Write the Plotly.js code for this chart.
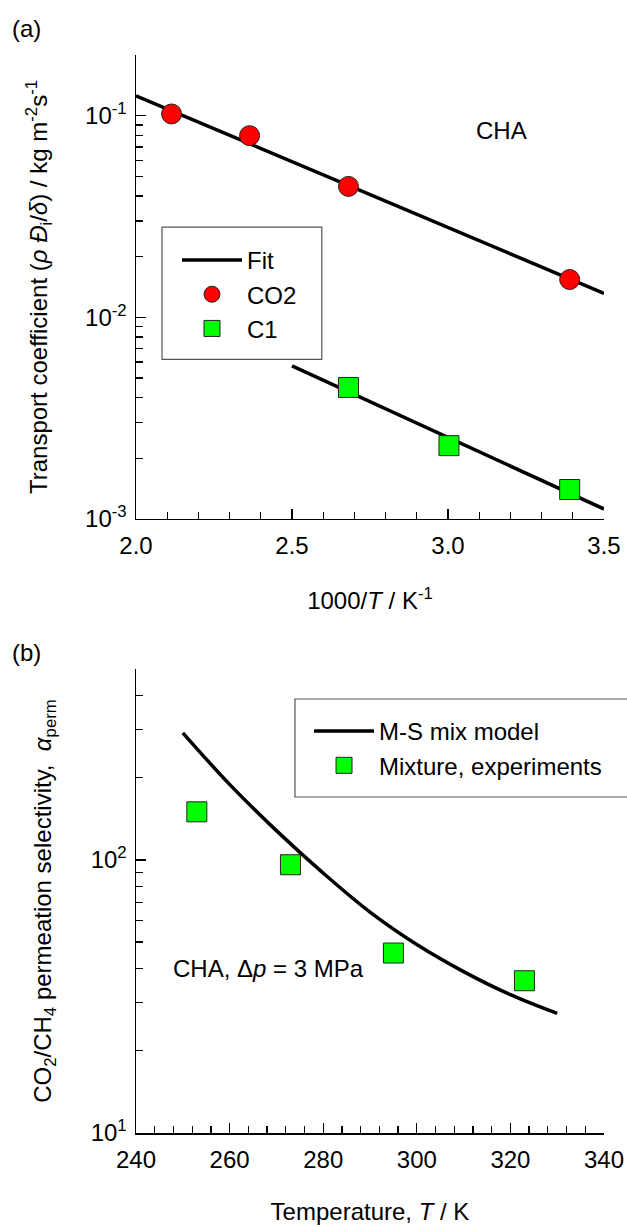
<!DOCTYPE html>
<html>
<head>
<meta charset="utf-8">
<script src="https://cdn.plot.ly/plotly-3.0.1.min.js"></script>
<style>html,body{margin:0;padding:0;background:#fff;}#chart{width:627px;height:1227px;}</style>
</head>
<body>
<div id="chart"></div>
<script>
// ---------- Panel (a) data ----------
const co2InvT = [2.114, 2.364, 2.681, 3.390];
const co2Coef = [0.102, 0.0796, 0.0446, 0.0154];
const c1InvT = [2.681, 3.003, 3.390];
const c1Coef = [0.00449, 0.00231, 0.00140];
const fitCO2InvT = [2.0, 3.5];
const fitCO2Coef = [0.1256, 0.01315];
const fitC1InvT = [2.5, 3.5];
const fitC1Coef = [0.00574, 0.00112];
const yTickValsA = [0.001, 0.01, 0.1];
const yTickTextA = ['10<sup>-3</sup>', '10<sup>-2</sup>', '10<sup>-1</sup>'];

// ---------- Panel (b) data ----------
const tempExp = [253, 273, 295, 323];
const selExp = [150, 96, 45.6, 36.1];
const tempModel = [250, 260, 270, 280, 290, 300, 310, 320, 330];
const selModel = [292, 189, 128, 89.5, 64.4, 49, 39, 32.1, 27.4];
const yTickValsB = [10, 100];
const yTickTextB = ['10<sup>1</sup>', '10<sup>2</sup>'];

function minorLog(decStart, decEnd, maxVal) {
  const out = [];
  for (let d = decStart; d < decEnd; d++) {
    for (let k = 2; k <= 9; k++) {
      const v = k * Math.pow(10, d);
      if (v <= maxVal * 1.0001) out.push(v);
    }
  }
  return out;
}

const FONT = 'Liberation Sans, Arial, Helvetica, sans-serif';
const axisCommon = {
  showline: true, linecolor: '#000', linewidth: 1.5,
  ticks: 'inside', ticklen: 10, tickwidth: 1.3, tickcolor: '#000',
  showgrid: false, zeroline: false, mirror: false, automargin: false,
  tickfont: {family: FONT, size: 24, color: '#000'}
};

const traces = [
  {x: fitCO2InvT, y: fitCO2Coef, xaxis: 'x', yaxis: 'y', mode: 'lines', name: 'Fit',
   line: {color: '#000', width: 3.5}, legend: 'legend'},
  {x: fitC1InvT, y: fitC1Coef, xaxis: 'x', yaxis: 'y', mode: 'lines', name: 'Fit C1',
   line: {color: '#000', width: 3.5}, showlegend: false, legend: 'legend'},
  {x: co2InvT, y: co2Coef, xaxis: 'x', yaxis: 'y', mode: 'markers', name: 'CO2',
   marker: {symbol: 'circle', size: 20, color: '#ff0000', line: {color: '#222', width: 1}}, legend: 'legend'},
  {x: c1InvT, y: c1Coef, xaxis: 'x', yaxis: 'y', mode: 'markers', name: 'C1',
   marker: {symbol: 'square', size: 20, color: '#00ff00', line: {color: '#222', width: 1}}, legend: 'legend'},
  {x: tempModel, y: selModel, xaxis: 'x2', yaxis: 'y2', mode: 'lines', name: 'M-S mix model',
   line: {color: '#000', width: 3.5, shape: 'spline'}, legend: 'legend2'},
  {x: tempExp, y: selExp, xaxis: 'x2', yaxis: 'y2', mode: 'markers', name: 'Mixture, experiments',
   marker: {symbol: 'square', size: 20, color: '#00ff00', line: {color: '#222', width: 1}}, legend: 'legend2'}
];

const layout = {
  width: 627, height: 1227,
  margin: {l: 136, r: 23, t: 55, b: 94, autoexpand: false},
  paper_bgcolor: '#fff', plot_bgcolor: '#fff',
  font: {family: FONT, size: 24, color: '#000'},
  showlegend: true,
  xaxis: Object.assign({}, axisCommon, {
    domain: [0, 1], anchor: 'y', range: [2, 3.5], tickmode: 'linear', tick0: 2, dtick: 0.5,
    tickformat: '.1f', ticklabelstandoff: 5,
    minor: {ticks: 'inside', ticklen: 7, tickwidth: 1.3, tickcolor: '#000', dtick: 0.1, tick0: 2, showgrid: false},
    title: {text: '1000/<i>T</i> / K<sup>-1</sup>', font: {family: FONT, size: 24}, standoff: 34}
  }),
  yaxis: Object.assign({}, axisCommon, {
    domain: [0.5696, 1], anchor: 'x', type: 'log', range: [-3, Math.log10(0.2)],
    tickmode: 'array', tickvals: yTickValsA, ticktext: yTickTextA, ticklabelstandoff: 3,
    minor: {ticks: 'inside', ticklen: 7, tickwidth: 1.3, tickcolor: '#000', tickmode: 'array',
            tickvals: minorLog(-3, 0, 0.2), showgrid: false},
    title: {text: 'Transport coefficient (<i>ρ Đ</i><sub>i</sub>/<i>δ</i>) / kg m<sup>-2</sup>s<sup>-1</sup>',
            font: {family: FONT, size: 24}, standoff: 30}
  }),
  xaxis2: Object.assign({}, axisCommon, {
    domain: [0, 1], anchor: 'y2', range: [240, 340], tickmode: 'linear', tick0: 240, dtick: 20,
    ticklabelstandoff: 5,
    minor: {ticks: 'inside', ticklen: 7, tickwidth: 1.3, tickcolor: '#000', dtick: 4, tick0: 240, showgrid: false},
    title: {text: 'Temperature, <i>T</i> / K', font: {family: FONT, size: 24}, standoff: 31}
  }),
  yaxis2: Object.assign({}, axisCommon, {
    domain: [0, 0.4304], anchor: 'x2', type: 'log', range: [1, Math.log10(500)],
    tickmode: 'array', tickvals: yTickValsB, ticktext: yTickTextB, ticklabelstandoff: 3,
    minor: {ticks: 'inside', ticklen: 7, tickwidth: 1.3, tickcolor: '#000', tickmode: 'array',
            tickvals: minorLog(1, 3, 500), showgrid: false},
    title: {text: 'CO<sub>2</sub>/CH<sub>4</sub> permeation selectivity,  <i>α</i><sub>perm</sub>',
            font: {family: FONT, size: 24}, standoff: 32}
  }),
  legend: {
    x: 0.0876, y: 0.8303, xanchor: 'left', yanchor: 'top',
    bgcolor: 'rgba(0,0,0,0)', borderwidth: 0, itemwidth: 60,
    font: {family: FONT, size: 24, color: '#000'}, traceorder: 'normal'
  },
  legend2: {
    x: 0.3697, y: 0.3933, xanchor: 'left', yanchor: 'top',
    bgcolor: 'rgba(0,0,0,0)', borderwidth: 0, itemwidth: 60,
    font: {family: FONT, size: 24, color: '#000'}, traceorder: 'normal'
  },
  shapes: [
    {type: 'rect', xref: 'paper', yref: 'paper', x0: 0.0556, x1: 0.397, y0: 0.7177, y1: 0.8404,
     line: {color: '#555', width: 1.2}, fillcolor: 'rgba(0,0,0,0)', layer: 'above'},
    {type: 'rect', xref: 'paper', yref: 'paper', x0: 0.3397, x1: 1.2, y0: 0.3117, y1: 0.4026,
     line: {color: '#555', width: 1.2}, fillcolor: 'rgba(0,0,0,0)', layer: 'above'}
  ],
  annotations: [
    {text: '(a)', xref: 'paper', yref: 'paper', x: -0.269, y: 1.025, xanchor: 'left', yanchor: 'middle',
     showarrow: false, font: {family: FONT, size: 24}},
    {text: '(b)', xref: 'paper', yref: 'paper', x: -0.269, y: 0.446, xanchor: 'left', yanchor: 'middle',
     showarrow: false, font: {family: FONT, size: 24}},
    {text: 'CHA', xref: 'paper', yref: 'paper', x: 0.782, y: 0.9295, xanchor: 'center', yanchor: 'middle',
     showarrow: false, font: {family: FONT, size: 24}},
    {text: 'CHA, Δ<i>p</i> = 3 MPa', xref: 'paper', yref: 'paper', x: 0.075, y: 0.153, xanchor: 'left', yanchor: 'middle',
     showarrow: false, font: {family: FONT, size: 24}}
  ]
};

Plotly.newPlot('chart', traces, layout, {displayModeBar: false, staticPlot: true});
</script>
</body>
</html>
